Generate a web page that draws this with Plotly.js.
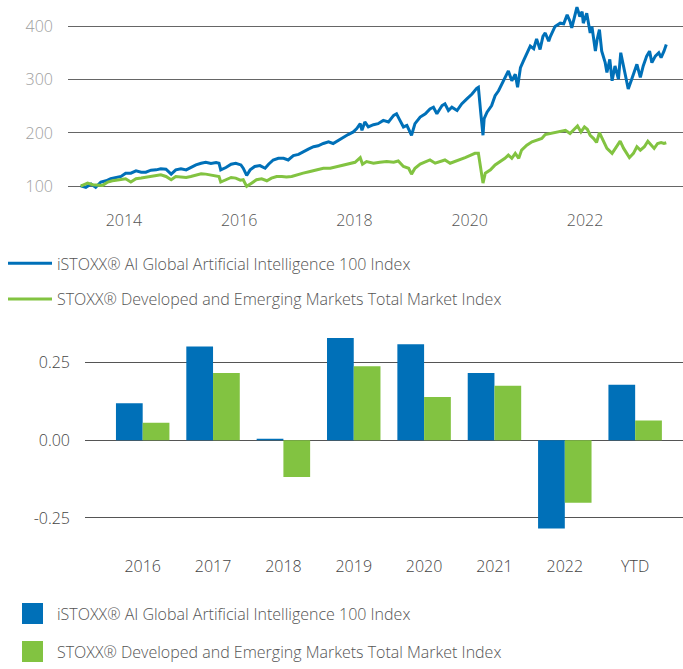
<!DOCTYPE html>
<html>
<head>
<meta charset="utf-8">
<script src="https://cdn.plot.ly/plotly-3.0.1.min.js"></script>
<style>html,body{margin:0;padding:0;background:#fff;}#chart{width:683px;height:669px;}</style>
</head>
<body>
<div id="chart"></div>
<script>
// ---- Series names ----
const aiName = "iSTOXX® AI Global Artificial Intelligence 100 Index";
const mktName = "STOXX® Developed and Emerging Markets Total Market Index";

// ---- Top chart: index levels (decimal years) ----
const aiDates = [2013.25,2013.34,2013.43,2013.51,2013.60,2013.69,2013.77,2013.86,2013.95,2014.03,2014.12,2014.21,2014.30,2014.38,2014.47,2014.56,2014.64,2014.73,2014.82,2014.90,2014.99,2015.08,2015.16,2015.25,2015.34,2015.42,2015.51,2015.60,2015.65,2015.68,2015.77,2015.86,2015.94,2016.03,2016.07,2016.13,2016.19,2016.27,2016.36,2016.45,2016.51,2016.59,2016.68,2016.77,2016.85,2016.94,2017.03,2017.11,2017.20,2017.29,2017.37,2017.46,2017.55,2017.63,2017.72,2017.81,2017.89,2017.98,2018.04,2018.10,2018.13,2018.18,2018.24,2018.33,2018.41,2018.50,2018.59,2018.68,2018.73,2018.78,2018.85,2018.91,2018.99,2019.05,2019.14,2019.23,2019.31,2019.37,2019.43,2019.52,2019.57,2019.63,2019.69,2019.78,2019.86,2019.95,2020.04,2020.12,2020.15,2020.19,2020.23,2020.25,2020.30,2020.38,2020.44,2020.50,2020.56,2020.61,2020.67,2020.73,2020.79,2020.83,2020.88,2020.93,2020.99,2021.05,2021.11,2021.16,2021.22,2021.27,2021.31,2021.37,2021.40,2021.48,2021.57,2021.63,2021.69,2021.74,2021.77,2021.86,2021.91,2021.95,2021.97,2022.03,2022.09,2022.12,2022.18,2022.21,2022.25,2022.29,2022.35,2022.38,2022.43,2022.47,2022.52,2022.58,2022.62,2022.67,2022.71,2022.75,2022.81,2022.87,2022.90,2022.96,2023.01,2023.07,2023.12,2023.16,2023.22,2023.28,2023.32,2023.37,2023.41];
const aiValues = [100.6,97.5,103.7,97.5,107.5,109.9,113.6,116.1,118.0,124.2,124.2,128.5,126.1,126.1,129.8,130.4,132.3,131.7,122.4,130.4,132.3,130.4,134.8,139.7,142.9,144.7,142.3,144.1,142.9,130.4,134.8,141.0,142.9,139.7,133.5,119.9,130.4,136.7,138.5,133.5,141.0,149.0,152.2,152.2,149.0,157.2,159.6,164.6,169.5,174.0,175.8,180.1,183.3,180.1,186.3,192.6,196.9,201.9,208.1,217.4,204.9,220.6,211.2,215.5,217.4,223.5,220.6,232.9,236.0,225.4,211.2,214.2,195.6,217.4,229.8,236.0,245.3,248.4,236.0,251.5,254.7,242.2,248.4,242.2,254.7,264.0,273.3,283.9,285.8,239.1,195.6,226.7,239.1,251.5,270.1,279.4,291.9,301.2,316.7,298.1,310.6,285.8,322.9,335.3,351.0,363.4,358.5,377.1,357.1,381.9,388.2,372.6,381.9,400.5,406.7,405.6,422.3,409.9,397.6,436.7,419.2,428.5,406.7,425.4,388.2,400.5,354.0,375.8,394.4,354.0,332.3,313.7,338.5,298.1,326.0,301.2,351.0,326.0,307.4,282.6,301.2,319.9,329.2,304.4,326.0,344.6,354.0,332.3,344.6,351.0,341.6,354.0,366.5];

const mktDates = [2013.25,2013.37,2013.46,2013.63,2013.72,2013.80,2013.92,2014.03,2014.12,2014.21,2014.30,2014.38,2014.47,2014.56,2014.64,2014.73,2014.82,2014.90,2014.99,2015.08,2015.16,2015.25,2015.34,2015.42,2015.51,2015.60,2015.65,2015.68,2015.77,2015.86,2015.94,2016.02,2016.07,2016.13,2016.22,2016.30,2016.39,2016.48,2016.56,2016.65,2016.74,2016.82,2016.91,2017.00,2017.11,2017.23,2017.35,2017.46,2017.58,2017.69,2017.81,2017.92,2018.01,2018.10,2018.14,2018.21,2018.33,2018.44,2018.56,2018.68,2018.76,2018.85,2018.94,2018.99,2019.05,2019.14,2019.23,2019.31,2019.40,2019.49,2019.57,2019.66,2019.74,2019.83,2019.92,2020.00,2020.09,2020.15,2020.19,2020.23,2020.27,2020.36,2020.44,2020.53,2020.61,2020.67,2020.73,2020.79,2020.85,2020.90,2020.99,2021.08,2021.16,2021.25,2021.31,2021.40,2021.48,2021.57,2021.66,2021.74,2021.80,2021.87,2021.93,2021.99,2022.04,2022.09,2022.15,2022.20,2022.25,2022.31,2022.38,2022.47,2022.54,2022.61,2022.67,2022.71,2022.77,2022.84,2022.90,2022.96,2023.03,2023.09,2023.15,2023.20,2023.26,2023.32,2023.37,2023.41];
const mktValues = [100.0,105.6,102.5,101.2,107.5,109.9,111.8,113.6,107.5,113.6,114.9,116.1,118.0,119.9,121.1,118.0,111.8,118.0,117.4,116.1,118.0,121.1,123.0,122.4,121.1,119.9,118.0,107.5,111.8,116.1,114.9,111.0,111.8,99.4,105.6,111.8,113.6,109.9,114.9,118.0,118.0,116.8,118.0,121.1,124.2,127.3,130.4,133.5,133.5,136.7,139.7,142.9,144.7,153.4,141.0,146.0,142.9,144.7,146.0,144.7,147.2,136.7,133.5,122.4,133.5,141.3,146.0,149.0,142.9,146.0,149.0,142.9,146.0,149.0,153.4,157.2,161.5,161.5,133.5,105.6,124.2,130.4,139.7,146.0,152.2,158.3,152.2,161.5,152.2,167.6,176.9,183.3,186.3,189.4,196.9,198.8,201.9,203.0,204.9,198.8,204.9,213.1,201.9,211.2,206.8,195.6,189.4,182.0,200.6,186.3,170.8,161.5,174.0,184.4,170.8,164.6,153.4,161.5,174.0,167.6,174.0,184.4,176.9,170.8,180.1,182.0,180.1,181.4];

const lineTickVals = [100, 200, 300, 400];
const yearTickVals = [2014, 2016, 2018, 2020, 2022];

// ---- Bottom chart: annual returns ----
const periods = ["2016","2017","2018","2019","2020","2021","2022","YTD"];
const aiReturns = [0.120, 0.303, 0.005, 0.330, 0.310, 0.217, -0.284, 0.179];
const mktReturns = [0.057, 0.217, -0.118, 0.239, 0.140, 0.176, -0.201, 0.064];
const barTickVals = [-0.25, 0, 0.25];
const barTickText = ["-0.25", "0.00", "0.25"];

const BLUE = "#0070b8";
const GREEN = "#82c341";
const FONT = "Open Sans, Noto Sans, sans-serif";
const FS = 16;

const traces = [
  {type:"scatter", mode:"lines", x: aiDates, y: aiValues, name: aiName,
   line:{color:BLUE, width:3}, xaxis:"x", yaxis:"y", legend:"legend", legendgroup:"a", hoverinfo:"skip"},
  {type:"scatter", mode:"lines", x: mktDates, y: mktValues, name: mktName,
   line:{color:GREEN, width:3}, xaxis:"x", yaxis:"y", legend:"legend", legendgroup:"b", hoverinfo:"skip"},
  {type:"bar", x: periods, y: aiReturns, name: aiName, marker:{color:BLUE}, showlegend:false,
   xaxis:"x2", yaxis:"y2", hoverinfo:"skip"},
  {type:"bar", x: periods, y: mktReturns, name: mktName, marker:{color:GREEN}, showlegend:false,
   xaxis:"x2", yaxis:"y2", hoverinfo:"skip"},
  // legend-only entries for the bar chart (square swatches)
  {type:"scatter", mode:"markers", x:[null], y:[null], name: aiName, xaxis:"x2", yaxis:"y2",
   marker:{symbol:"square", size:16, color:BLUE, line:{color:BLUE, width:5}},
   legend:"legend2", legendgroup:"c", hoverinfo:"skip"},
  {type:"scatter", mode:"markers", x:[null], y:[null], name: mktName, xaxis:"x2", yaxis:"y2",
   marker:{symbol:"square", size:16, color:GREEN, line:{color:GREEN, width:5}},
   legend:"legend2", legendgroup:"d", hoverinfo:"skip"}
];

const H = 669, W = 683;
const layout = {
  width: W, height: H,
  margin:{l:0, r:0, t:0, b:0},
  paper_bgcolor:"#fff", plot_bgcolor:"rgba(0,0,0,0)",
  font:{family:FONT, size:FS, color:"#555", weight:300},
  showlegend:true,
  barmode:"group", bargap:0.24, bargroupgap:0,
  xaxis:{domain:[68/W, 1], range:[2013.03, 2023.70], type:"linear",
    tickvals: yearTickVals, showgrid:false, zeroline:false, showline:false, ticks:"",
    ticklabelstandoff: 11, tickfont:{family:FONT, size:FS, color:"#555", weight:300}, anchor:"y"},
  yaxis:{domain:[1-200/H, 1-3/H], range:[77.6, 444.7], tickvals: lineTickVals,
    showgrid:true, gridcolor:"#666", gridwidth:1, zeroline:false, showline:false, ticks:"",
    ticklabelstandoff: 14, tickfont:{family:FONT, size:FS, color:"#9e9e9e", weight:300}, anchor:"x"},
  xaxis2:{domain:[85/W, 1], type:"category", categoryorder:"array", categoryarray: periods,
    range:[-0.82, 7.68], showgrid:false, zeroline:false, showline:false, ticks:"",
    ticklabelstandoff: 16, tickfont:{family:FONT, size:FS, color:"#444", weight:300}, anchor:"y2"},
  yaxis2:{domain:[1-545/H, 1-335/H], range:[-0.319, 0.351], tickvals: barTickVals, ticktext: barTickText,
    showgrid:true, gridcolor:"#555", gridwidth:1, zeroline:false, showline:false, ticks:"",
    ticklabelstandoff: 14, tickfont:{family:FONT, size:FS, color:"#444", weight:300}, anchor:"x2"},
  legend:{x:3/W, xanchor:"left", y:1-249/H, yanchor:"top", orientation:"v",
    traceorder:"grouped", tracegroupgap:12, itemwidth:44, bgcolor:"rgba(0,0,0,0)",
    font:{family:FONT, size:FS, color:"#555", weight:300}},
  legend2:{x:8/W, xanchor:"left", y:1-603/H, yanchor:"top", orientation:"v",
    traceorder:"grouped", tracegroupgap:14, itemwidth:39, itemsizing:"trace", bgcolor:"rgba(0,0,0,0)",
    font:{family:FONT, size:FS, color:"#555", weight:300}}
};

Plotly.newPlot("chart", traces, layout, {staticPlot:true, displayModeBar:false});
</script>
</body>
</html>
